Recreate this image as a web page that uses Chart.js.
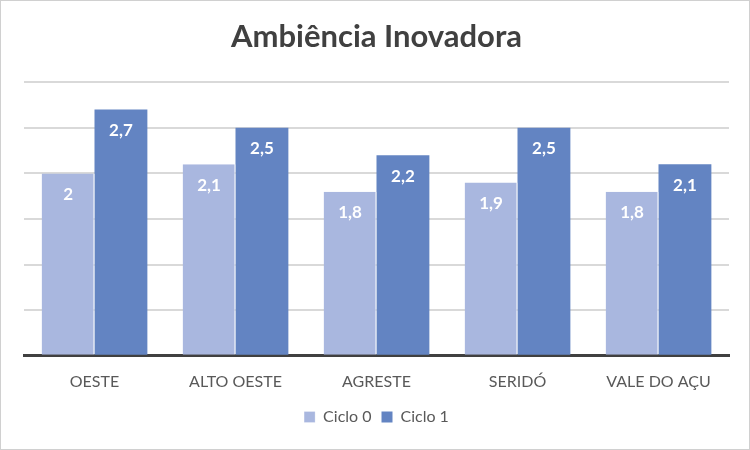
<!DOCTYPE html>
<html>
<head>
<meta charset="utf-8">
<script src="https://cdn.jsdelivr.net/npm/chart.js@4"></script>
<style>
    html, body { margin: 0; padding: 0; background: #fff; }
    #wrap { position: relative; width: 748px; height: 448px; border: 1px solid #d0d0d0; }
</style>
</head>
<body>
<div id="wrap"><canvas id="chart"></canvas></div>
<script>
// 데이터
const regions = ['OESTE', 'ALTO OESTE', 'AGRESTE', 'SERIDÓ', 'VALE DO AÇU'];
const ciclo0 = [2, 2.1, 1.8, 1.9, 1.8];
const ciclo1 = [2.7, 2.5, 2.2, 2.5, 2.1];
const seriesNames = ['Ciclo 0', 'Ciclo 1'];

const fontFamily = 'Lato, "Open Sans", sans-serif';

// 막대 위 값 표시 플러그인
const barLabels = {
    id: 'barLabels',
    afterDatasetsDraw(chart) {
        const ctx = chart.ctx;
        ctx.save();
        ctx.fillStyle = '#ffffff';
        ctx.font = 'bold 17px ' + fontFamily;
        ctx.textAlign = 'center';
        ctx.textBaseline = 'middle';
        chart.data.datasets.forEach((ds, i) => {
            const meta = chart.getDatasetMeta(i);
            meta.data.forEach((bar, j) => {
                const text = String(ds.data[j]).replace('.', ',');
                ctx.fillText(text, bar.x, bar.y + 21);
            });
        });
        ctx.restore();
    }
};

new Chart(document.getElementById('chart'), {
    type: 'bar',
    data: {
        labels: regions,
        datasets: [
            {
                label: seriesNames[0],
                data: ciclo0,
                backgroundColor: '#a9b7df',
                borderColor: '#ffffff',
                borderWidth: { left: 0, right: 1, top: 0, bottom: 0 },
                categoryPercentage: 0.75,
                barPercentage: 1
            },
            {
                label: seriesNames[1],
                data: ciclo1,
                backgroundColor: '#6384c2',
                borderWidth: 0,
                categoryPercentage: 0.75,
                barPercentage: 1
            }
        ]
    },
    options: {
        responsive: true,
        maintainAspectRatio: false,
        animation: false,
        layout: { padding: { left: 23, right: 20, top: 0, bottom: 14 } },
        plugins: {
            title: {
                display: true,
                text: 'Ambiência Inovadora',
                color: '#404040',
                font: { family: fontFamily, size: 31, weight: 'bold' },
                padding: { top: 17, bottom: 27 }
            },
            legend: {
                position: 'bottom',
                labels: {
                    color: '#595959',
                    font: { family: fontFamily, size: 16 },
                    boxWidth: 11,
                    boxHeight: 11,
                    padding: 10
                }
            },
            tooltip: { enabled: false }
        },
        scales: {
            x: {
                grid: { display: false },
                border: { color: '#404040', width: 3 },
                ticks: {
                    color: '#595959',
                    font: { family: fontFamily, size: 16 },
                    padding: 8
                }
            },
            y: {
                min: 0,
                max: 3,
                ticks: { display: false, stepSize: 0.5 },
                grid: { color: '#d9d9d9', lineWidth: 2, drawTicks: false },
                border: { display: false }
            }
        }
    },
    plugins: [barLabels]
});
</script>
</body>
</html>
